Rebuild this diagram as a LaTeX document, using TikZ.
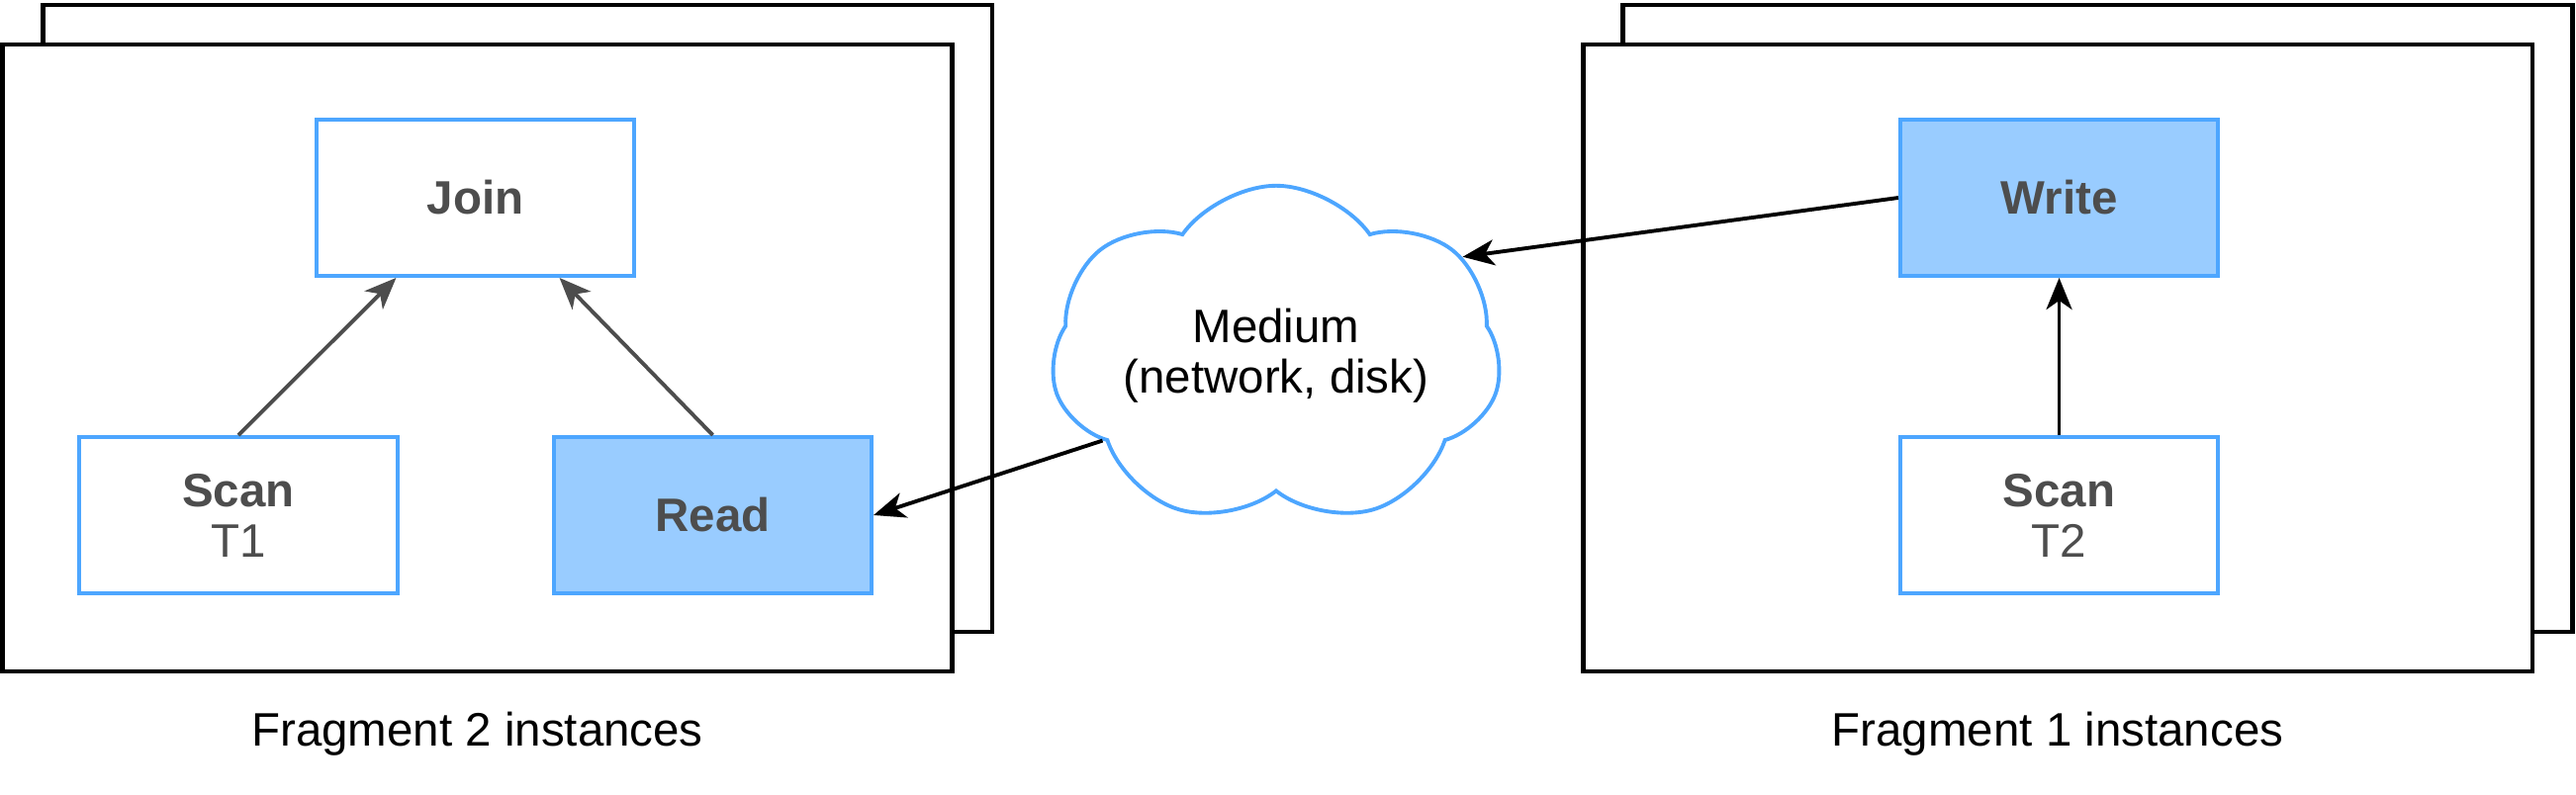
\documentclass[tikz,border=0pt]{standalone}
\usepackage{fontspec}
\setmainfont{Liberation Sans}
\usetikzlibrary{arrows.meta,positioning,shapes.symbols}

\definecolor{opblue}{HTML}{4DA6FF}
\definecolor{opfill}{HTML}{99CCFF}
\definecolor{optext}{HTML}{4D4D4D}

\begin{document}
\begin{tikzpicture}[x=0.01cm, y=-0.01cm,
  font=\fontsize{13.5}{14.5}\selectfont, >={Stealth[length=3.2mm, width=2.6mm, inset=0.9mm]},
  frame/.style={draw, line width=1.3pt, fill=white, minimum width=9.59cm, minimum height=6.34cm, inner sep=0pt},
  op/.style={draw=opblue, line width=1.1pt, fill=white, text=optext, align=center, minimum width=3.21cm, minimum height=1.58cm, inner sep=0pt},
  active/.style={op, fill=opfill},
  flow/.style={->, line width=1.1pt},
  innerflow/.style={flow, draw=optext, fill=optext}]
\useasboundingbox (0,0) rectangle (2604,804);
% fragment 2 (left)
\node[frame] (frag2back) at (523,322) {};
\node[frame] (frag2) at (482.5,362) {};
\node[op] (join) at (480.5,200) {\textbf{Join}};
\node[op] (scan1) at (241,521) {\textbf{Scan}\\T1};
\node[active] (read) at (720.5,521) {\textbf{Read}};
\node[below=2.6mm of frag2] (lab2) {Fragment 2 instances};
% fragment 1 (right)
\node[frame] (frag1back) at (2120.5,322) {};
\node[frame] (frag1) at (2080,362) {};
\node[active] (write) at (2081.5,200) {\textbf{Write}};
\node[op] (scan2) at (2081.5,521) {\textbf{Scan}\\T2};
\node[below=2.6mm of frag1] (lab1) {Fragment 1 instances};
% medium
\node[cloud, draw=opblue, line width=1.1pt, cloud puffs=7, cloud puff arc=110, aspect=1.6,
  minimum width=3.8cm, minimum height=1.9cm, inner sep=0pt, align=center] (medium) at (1290,360) {Medium\\(network, disk)};
\draw[innerflow] (scan1.north) -- ([xshift=-8mm]join.south);
\draw[innerflow] (read.north) -- ([xshift=8.5mm]join.south);
\draw[flow] (scan2) -- (write);
\draw[flow] (write.west) -- (medium.28);
\draw[flow] (medium.206) -- (read.east);
\end{tikzpicture}
\end{document}
